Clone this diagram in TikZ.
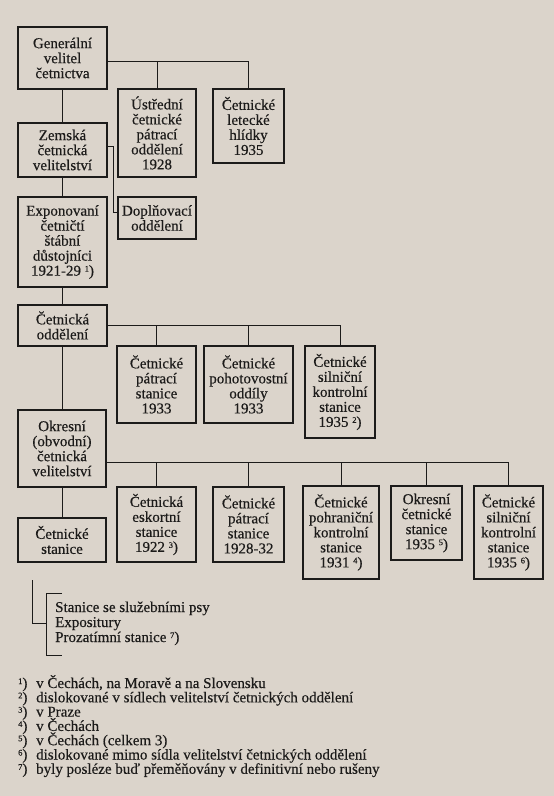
\documentclass[tikz,border=0pt]{standalone}
\usepackage{fontspec}
\setmainfont{Liberation Serif}[FakeBold=0.4]
\lineskiplimit=-1000pt
\definecolor{bg}{RGB}{219,212,203}
\definecolor{ink}{RGB}{28,27,26}
\newcommand{\fnsup}[1]{\raisebox{4pt}{\fontsize{8.5}{8.5}\selectfont #1}}
\newcommand{\fnmark}[1]{\makebox[18pt][l]{\fnsup{#1})}}
\begin{document}
\begin{tikzpicture}[x=1pt,y=-1pt,
  orgbox/.style={draw=ink,line width=1.2pt,align=center,inner sep=0pt,
    font=\fontsize{15}{15}\selectfont,text=ink},
  link/.style={draw=ink,line width=0.9pt},
  fn/.style={anchor=base west,inner sep=0pt,text=ink}]
\fill[bg] (0,0) rectangle (554,796);
\useasboundingbox (0,0) rectangle (554,796);
% boxes
\node[orgbox,minimum width=89,minimum height=62] (gen) at (62.5,58) {Generální\\velitel\\četnictva};
\node[orgbox,minimum width=78,minimum height=88] (ustr) at (157,133) {Ústřední\\četnické\\pátrací\\oddělení\\1928};
\node[orgbox,minimum width=71,minimum height=74] (let) at (248.5,126) {Četnické\\letecké\\hlídky\\1935};
\node[orgbox,minimum width=89,minimum height=54] (zem) at (62.5,150) {Zemská\\četnická\\velitelství};
\node[orgbox,minimum width=89,minimum height=90] (exp) at (62.5,242) {Exponovaní\\četničtí\\štábní\\důstojníci\\1921-29~\fnsup{1})};
\node[orgbox,minimum width=78,minimum height=42] (dop) at (157,218) {Doplňovací\\oddělení};
\node[orgbox,minimum width=89,minimum height=41] (odd) at (62.5,325.5) {Četnická\\oddělení};
\node[orgbox,minimum width=79,minimum height=77] (patr) at (156.5,384.5) {Četnické\\pátrací\\stanice\\1933};
\node[orgbox,minimum width=89,minimum height=77] (poh) at (248.5,384.5) {Četnické\\pohotovostní\\oddíly\\1933};
\node[orgbox,minimum width=70,minimum height=92] (sil) at (340,392) {Četnické\\silniční\\kontrolní\\stanice\\1935~\fnsup{2})};
\node[orgbox,minimum width=88,minimum height=77] (okr) at (62,448.5) {Okresní\\(obvodní)\\četnická\\velitelství};
\node[orgbox,minimum width=88,minimum height=44] (stan) at (62,540) {Četnické\\stanice};
\node[orgbox,minimum width=79,minimum height=75] (esk) at (156.5,524.5) {Četnická\\eskortní\\stanice\\1922~\fnsup{3})};
\node[orgbox,minimum width=71,minimum height=75] (patrb) at (248.5,524.5) {Četnické\\pátrací\\stanice\\1928-32};
\node[orgbox,minimum width=76,minimum height=93] (pohr) at (341,532.5) {Četnické\\pohraniční\\kontrolní\\stanice\\1931~\fnsup{4})};
\node[orgbox,minimum width=71,minimum height=74] (okrst) at (426.5,523) {Okresní\\četnické\\stanice\\1935~\fnsup{5})};
\node[orgbox,minimum width=69,minimum height=93] (silb) at (508.5,532.5) {Četnické\\silniční\\kontrolní\\stanice\\1935~\fnsup{6})};
% connector anchor points
\coordinate (genout) at ([yshift=-3pt]gen.east);
\coordinate (zemout) at ([yshift=4pt]zem.east);
\coordinate (dopin) at ([yshift=6pt]dop.west);
\coordinate (okrout) at ([yshift=-13.5pt]okr.east);
% connectors
\draw[link] (gen) -- (zem);
\draw[link] (genout) -| (let.north);
\draw[link] (ustr.north) -- (ustr.north |- genout);
\draw[link] (zem) -- (exp);
\draw[link] (zemout) -- ++(6,0) |- (dopin);
\draw[link] (exp) -- (odd);
\draw[link] (odd.east) -| (sil.north);
\draw[link] (patr.north) -- (patr.north |- odd.east);
\draw[link] (poh.north) -- (poh.north |- odd.east);
\draw[link] (odd.south -| okr.north) -- (okr.north);
\draw[link] (okrout) -| (silb.north);
\foreach \n in {esk,patrb,pohr,okrst}
  \draw[link] (\n.north) -- (\n.north |- okrout);
\draw[link] (okr) -- (stan);
% bracket
\coordinate (brtop) at (32,580);
\coordinate (brjoin) at (46,623);
\draw[link] (brtop) |- (brjoin);
\draw[link] (62,593) -- (46,593) -- (46,655) -- (62,655);
\node[fn] (brtext) at (55,612) {\fontsize{15}{15}\selectfont
  \vtop{\hbox{Stanice se služebními psy}
        \hbox{Expositury}
        \hbox{Prozatímní stanice~\fnsup{7})}}};
% footnotes
\node[fn] (notes) at (18,688) {\fontsize{15}{14.3}\selectfont
  \vtop{\hbox{\fnmark{1}v Čechách, na Moravě a na Slovensku}
        \hbox{\fnmark{2}dislokované v sídlech velitelství četnických oddělení}
        \hbox{\fnmark{3}v Praze}
        \hbox{\fnmark{4}v Čechách}
        \hbox{\fnmark{5}v Čechách (celkem 3)}
        \hbox{\fnmark{6}dislokované mimo sídla velitelství četnických oddělení}
        \hbox{\fnmark{7}byly posléze buď přeměňovány v definitivní nebo rušeny}}};
\end{tikzpicture}
\end{document}
